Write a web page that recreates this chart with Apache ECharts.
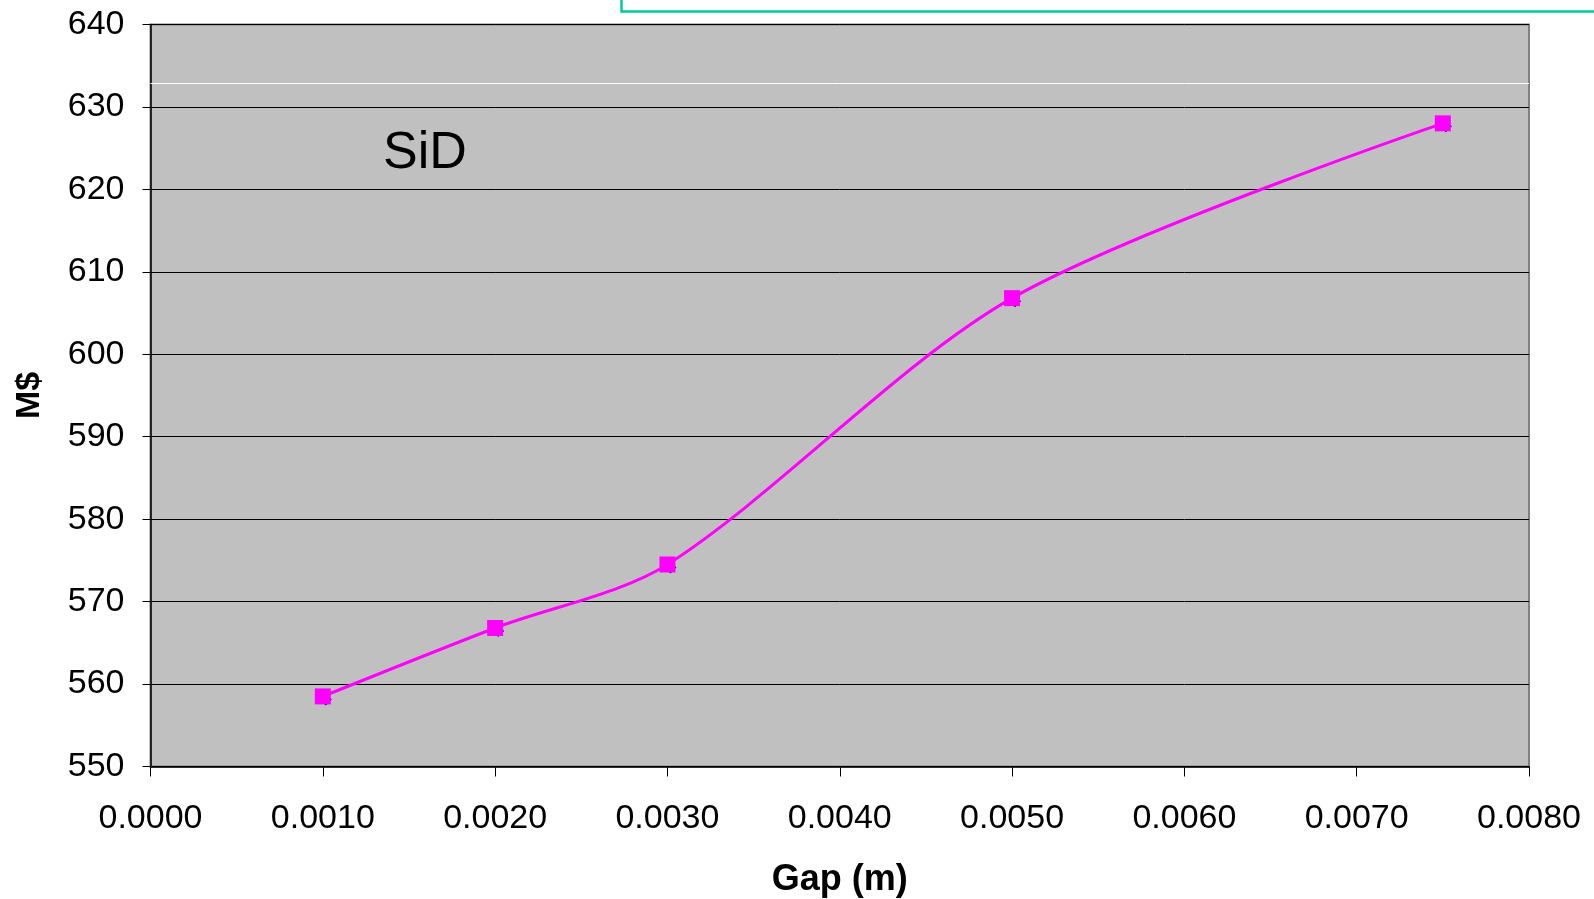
<!DOCTYPE html>
<html>
<head>
<meta charset="utf-8">
<script src="https://cdn.jsdelivr.net/npm/echarts@6/dist/echarts.min.js"></script>
<style>
html,body{margin:0;padding:0;background:#fff;}
#chart{width:1594px;height:899px;}
</style>
</head>
<body>
<div id="chart"></div>
<script>
const gapValues = [0.0010, 0.0020, 0.0030, 0.0050, 0.0075];
const costValues = [558.5, 566.8, 574.5, 606.8, 628.0];
const yTicks = [550, 560, 570, 580, 590, 600, 610, 620, 630, 640];
const xTicks = [0, 0.001, 0.002, 0.003, 0.004, 0.005, 0.006, 0.007, 0.008];
const whiteLineValue = 632.9;
const labelText = 'SiD';

const pts = gapValues.map((g, i) => [g, costValues[i]]);

const chart = echarts.init(document.getElementById('chart'));
const fontFam = '"Liberation Sans", Arial, sans-serif';
chart.setOption({
  animation: false,
  backgroundColor: '#ffffff',
  grid: {left: 150.5, right: 65, top: 24.4, bottom: 132.5, show: true,
    outerBoundsMode: 'none', containLabel: false,
    backgroundColor: '#c0c0c0', borderColor: '#808080', borderWidth: 2},
  xAxis: {
    type: 'value', min: xTicks[0], max: xTicks[xTicks.length - 1], interval: 0.001,
    name: 'Gap (m)', nameLocation: 'middle', nameGap: 96,
    nameTextStyle: {fontFamily: fontFam, fontSize: 36, fontWeight: 'bold', color: '#000'},
    axisLine: {show: true, onZero: false, lineStyle: {color: '#000', width: 1.5}},
    axisTick: {show: true, length: 10, lineStyle: {color: '#000'}},
    axisLabel: {fontFamily: fontFam, fontSize: 34, color: '#000', margin: 35,
      formatter: v => v.toFixed(4)},
    splitLine: {show: false}
  },
  yAxis: {
    type: 'value', min: yTicks[0], max: yTicks[yTicks.length - 1], interval: 10,
    name: 'M$', nameLocation: 'middle', nameGap: 104,
    nameTextStyle: {fontFamily: fontFam, fontSize: 34, fontWeight: 'bold', color: '#000'},
    axisLine: {show: true, lineStyle: {color: '#000', width: 1.5}},
    axisTick: {show: true, length: 8, lineStyle: {color: '#000'}},
    axisLabel: {fontFamily: fontFam, fontSize: 34, color: '#000', margin: 26},
    splitLine: {show: true, lineStyle: {color: '#000', width: 1}}
  },
  series: [
    {
      type: 'line', data: pts, symbol: 'diamond', symbolSize: 12, symbolOffset: [3, 3],
      showSymbol: true, z: 2,
      itemStyle: {color: '#000080'},
      lineStyle: {width: 0}
    },
    {
      type: 'line', data: pts, smooth: 0.3, symbol: 'rect', symbolSize: 16, z: 3,
      itemStyle: {color: '#ff00ff'},
      lineStyle: {color: '#ff00ff', width: 3},
      markLine: {
        silent: true, symbol: 'none', label: {show: false},
        lineStyle: {color: '#ffffff', width: 1, type: 'solid'},
        data: [{yAxis: whiteLineValue}]
      }
    }
  ],
  graphic: [
    {type: 'rect', left: 619, top: -10, shape: {width: 1000, height: 19},
      style: {fill: 'none', stroke: '#00cc99', lineWidth: 2.5}, z: 10},
    {type: 'text', left: 383, top: 128,
      style: {text: labelText, font: '52px "Liberation Sans", Arial, sans-serif', fill: '#000'}, z: 10}
  ]
});
</script>
</body>
</html>
